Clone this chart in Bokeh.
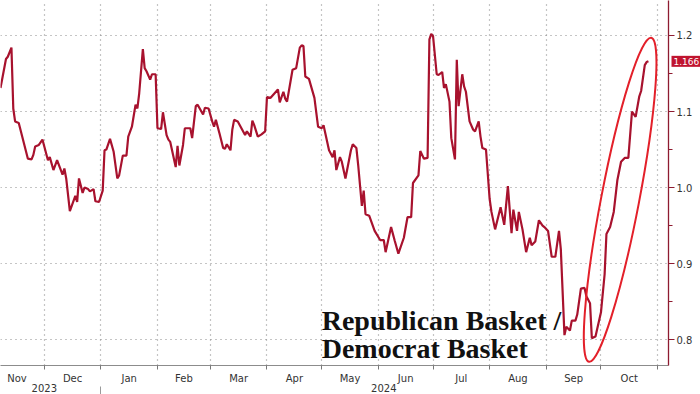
import pandas as pd
from bokeh.plotting import figure
from bokeh.models import (ColumnDataSource, Range1d, LinearAxis, FixedTicker, Label,
                          PrintfTickFormatter, CustomJSTickFormatter, Grid)
from bokeh.core.properties import value
from bokeh.embed import file_html
from bokeh.resources import INLINE

# ---------------- data ----------------
dates = [
    "2023-11-07", "2023-11-10", "2023-11-11", "2023-11-13", "2023-11-14", "2023-11-15", "2023-11-17",
    "2023-11-22", "2023-11-24", "2023-11-25", "2023-11-26", "2023-11-28", "2023-11-30", "2023-12-01",
    "2023-12-03", "2023-12-04", "2023-12-06", "2023-12-08", "2023-12-11", "2023-12-12", "2023-12-13",
    "2023-12-15", "2023-12-18", "2023-12-19", "2023-12-20", "2023-12-22", "2023-12-23", "2023-12-25",
    "2023-12-26", "2023-12-28", "2023-12-29", "2023-12-31", "2024-01-02", "2024-01-03", "2024-01-04",
    "2024-01-06", "2024-01-08", "2024-01-10", "2024-01-11", "2024-01-13", "2024-01-15", "2024-01-16",
    "2024-01-18", "2024-01-20", "2024-01-21", "2024-01-22", "2024-01-24", "2024-01-25", "2024-01-26",
    "2024-01-28", "2024-01-29", "2024-01-31", "2024-02-01", "2024-02-03", "2024-02-04", "2024-02-06",
    "2024-02-07", "2024-02-08", "2024-02-11", "2024-02-12", "2024-02-13", "2024-02-15", "2024-02-16",
    "2024-02-19", "2024-02-20", "2024-02-22", "2024-02-23", "2024-02-26", "2024-02-27", "2024-02-29",
    "2024-03-02", "2024-03-03", "2024-03-04", "2024-03-06", "2024-03-08", "2024-03-09", "2024-03-10",
    "2024-03-12", "2024-03-13", "2024-03-14", "2024-03-16", "2024-03-20", "2024-03-21", "2024-03-23",
    "2024-03-24", "2024-03-25", "2024-03-27", "2024-03-29", "2024-03-31", "2024-04-01", "2024-04-03",
    "2024-04-07", "2024-04-08", "2024-04-10", "2024-04-11", "2024-04-12", "2024-04-15", "2024-04-17",
    "2024-04-19", "2024-04-20", "2024-04-21", "2024-04-22", "2024-04-24", "2024-04-27", "2024-04-29",
    "2024-05-01", "2024-05-02", "2024-05-05", "2024-05-07", "2024-05-08", "2024-05-09", "2024-05-11",
    "2024-05-12", "2024-05-14", "2024-05-17", "2024-05-18", "2024-05-20", "2024-05-21", "2024-05-23",
    "2024-05-24", "2024-05-25", "2024-05-27", "2024-05-30", "2024-06-02", "2024-06-04", "2024-06-05",
    "2024-06-08", "2024-06-10", "2024-06-12", "2024-06-15", "2024-06-17", "2024-06-19", "2024-06-20",
    "2024-06-23", "2024-06-24", "2024-06-26", "2024-06-28", "2024-06-29", "2024-06-30", "2024-07-01",
    "2024-07-03", "2024-07-04", "2024-07-06", "2024-07-07", "2024-07-08", "2024-07-10", "2024-07-11",
    "2024-07-13", "2024-07-14", "2024-07-15", "2024-07-17", "2024-07-18", "2024-07-19", "2024-07-21",
    "2024-07-23", "2024-07-24", "2024-07-26", "2024-07-27", "2024-07-28", "2024-07-30", "2024-08-01",
    "2024-08-02", "2024-08-04", "2024-08-07", "2024-08-09", "2024-08-11", "2024-08-13", "2024-08-14",
    "2024-08-16", "2024-08-17", "2024-08-19", "2024-08-21", "2024-08-23", "2024-08-24", "2024-08-26",
    "2024-08-28", "2024-08-30", "2024-08-31", "2024-09-02", "2024-09-04", "2024-09-06", "2024-09-08",
    "2024-09-09", "2024-09-11", "2024-09-12", "2024-09-14", "2024-09-15", "2024-09-17", "2024-09-18",
    "2024-09-20", "2024-09-22", "2024-09-23", "2024-09-25", "2024-09-26", "2024-09-28", "2024-10-01",
    "2024-10-03", "2024-10-04", "2024-10-06", "2024-10-08", "2024-10-10", "2024-10-12", "2024-10-14",
    "2024-10-16", "2024-10-18", "2024-10-20", "2024-10-22", "2024-10-23", "2024-10-25", "2024-10-26",
    "2024-10-27",
]
ratio = [
    1.131, 1.169, 1.172, 1.184, 1.104, 1.087, 1.085,
    1.038, 1.037, 1.043, 1.054, 1.056, 1.063, 1.054,
    1.036, 1.040, 1.023, 1.036, 1.017, 1.025, 1.012,
    0.969, 0.989, 0.981, 1.012, 0.993, 1.000, 0.998,
    0.995, 0.998, 0.982, 0.981, 0.996, 1.049, 1.050,
    1.064, 1.047, 1.012, 1.016, 1.042, 1.042, 1.067,
    1.080, 1.109, 1.104, 1.124, 1.182, 1.157, 1.153,
    1.142, 1.149, 1.149, 1.078, 1.077, 1.099, 1.069,
    1.063, 1.060, 1.027, 1.055, 1.029, 1.056, 1.078,
    1.078, 1.065, 1.107, 1.109, 1.096, 1.105, 1.104,
    1.087, 1.080, 1.089, 1.071, 1.052, 1.051, 1.057,
    1.049, 1.076, 1.089, 1.087, 1.069, 1.074, 1.067,
    1.088, 1.082, 1.067, 1.070, 1.074, 1.119, 1.118,
    1.129, 1.112, 1.126, 1.117, 1.113, 1.155, 1.157,
    1.184, 1.187, 1.186, 1.146, 1.143, 1.118, 1.080,
    1.078, 1.082, 1.049, 1.040, 1.049, 1.023, 1.040,
    1.034, 1.012, 1.049, 1.057, 1.052, 1.029, 0.976,
    0.996, 0.965, 0.963, 0.943, 0.931, 0.931, 0.915,
    0.948, 0.930, 0.913, 0.934, 0.961, 0.961, 1.006,
    1.016, 1.048, 1.038, 1.039, 1.195, 1.202, 1.199,
    1.149, 1.148, 1.152, 1.131, 1.136, 1.113, 1.065,
    1.037, 1.168, 1.107, 1.149, 1.133, 1.126, 1.087,
    1.076, 1.074, 1.087, 1.067, 1.052, 1.050, 0.985,
    0.968, 0.945, 0.974, 0.951, 1.002, 0.940, 0.971,
    0.943, 0.968, 0.945, 0.915, 0.934, 0.924, 0.929,
    0.957, 0.950, 0.948, 0.943, 0.909, 0.909, 0.943,
    0.919, 0.806, 0.817, 0.812, 0.825, 0.825, 0.833,
    0.867, 0.868, 0.857, 0.848, 0.802, 0.804, 0.836,
    0.886, 0.939, 0.948, 0.968, 1.010, 1.034, 1.039,
    1.039, 1.100, 1.093, 1.120, 1.127, 1.161, 1.165,
    1.166,
]

month_labels = ["Nov", "Dec", "Jan", "Feb", "Mar", "Apr", "May", "Jun", "Jul", "Aug", "Sep", "Oct"]
month_starts = ["2023-11-01", "2023-12-01", "2024-01-01", "2024-02-01", "2024-03-01", "2024-04-01",
                "2024-05-01", "2024-06-01", "2024-07-01", "2024-08-01", "2024-09-01", "2024-10-01",
                "2024-11-01"]
year_labels = ["2023", "2024"]
year_label_dates = ["2023-12-01", "2024-06-04"]
year_break = ["2024-01-01"]
y_ticks = [0.8, 0.9, 1.0, 1.1, 1.2]
y_minor_ticks = [0.85, 0.95, 1.05, 1.15]
title_lines = ["Republican Basket /", "Democrat Basket"]
title_anchor_date = "2024-05-01"
title_values = [0.825, 0.788]
x_start, x_end = "2023-11-07", "2024-11-07"
y_start, y_end = 0.766, 1.246


def ms(s):
    return pd.Timestamp(s).value / 1e6


LINE = "#a8122e"
ELLIPSE = "#e3202a"

src = ColumnDataSource(dict(x=[ms(d) for d in dates], y=ratio))

p = figure(width=700, height=394, output_backend="svg", toolbar_location=None,
           x_axis_type=None, y_axis_location="right",
           x_range=Range1d(ms(x_start), ms(x_end)), y_range=Range1d(y_start, y_end),
           min_border_left=0, min_border_top=0, min_border_bottom=0, min_border_right=32)
p.outline_line_color = None
p.background_fill_color = "white"
p.border_fill_color = "white"

# grids
start_ms = [ms(d) for d in month_starts]
p.add_layout(Grid(dimension=0, ticker=FixedTicker(ticks=start_ms),
                  grid_line_color="#8a8a8a", grid_line_dash="1 4", grid_line_width=1.2))
p.ygrid.ticker = FixedTicker(ticks=y_ticks)
p.ygrid.grid_line_color = "#8a8a8a"
p.ygrid.grid_line_dash = "1 4"
p.ygrid.grid_line_width = 1.2

# right axis
ya = p.yaxis[0]
ya.ticker = FixedTicker(ticks=y_ticks, minor_ticks=y_minor_ticks)
ya.formatter = PrintfTickFormatter(format="%.1f")
ya.axis_line_color = "#8e1b30"
ya.axis_line_width = 1.3
ya.major_tick_line_color = "#8e1b30"
ya.minor_tick_line_color = "#8e1b30"
ya.major_tick_in = 0
ya.major_tick_out = 6
ya.minor_tick_in = 0
ya.minor_tick_out = 4
ya.major_label_text_font = "DejaVu Sans"
ya.major_label_text_font_size = "10px"
ya.major_label_text_color = "#333333"
ya.major_label_standoff = 2

# month axis
centers = [(start_ms[i] + start_ms[i + 1]) / 2 for i in range(len(month_labels))]
fmt_code = """
let best = 0, bd = Infinity;
for (let i = 0; i < pos.length; i++) {
  const d = Math.abs(pos[i] - tick);
  if (d < bd) { bd = d; best = i; }
}
return labs[best];
"""
xa = LinearAxis(ticker=FixedTicker(ticks=centers, minor_ticks=start_ms),
                formatter=CustomJSTickFormatter(args=dict(pos=centers, labs=month_labels), code=fmt_code),
                axis_line_color="#8c8c8c", axis_line_width=1.2,
                major_tick_line_color=None, major_tick_out=4, major_tick_in=0,
                minor_tick_line_color="#777777", minor_tick_out=4, minor_tick_in=0,
                major_label_text_font="DejaVu Sans", major_label_text_font_size="10px",
                major_label_text_color="#333333", major_label_standoff=3)
p.add_layout(xa, "below")

year_ms = [ms(d) for d in year_label_dates]
ya2 = LinearAxis(ticker=FixedTicker(ticks=year_ms, minor_ticks=[ms(d) for d in year_break]),
                 formatter=CustomJSTickFormatter(args=dict(pos=year_ms, labs=year_labels), code=fmt_code),
                 axis_line_color=None, major_tick_line_color=None, major_tick_out=0, major_tick_in=0,
                 minor_tick_line_color="#9a9a9a", minor_tick_out=16, minor_tick_in=0,
                 major_label_text_font="DejaVu Sans", major_label_text_font_size="10px",
                 major_label_text_color="#333333", major_label_standoff=-19)
p.add_layout(ya2, "below")

# main line
p.line("x", "y", source=src, line_color=LINE, line_width=2.2)

# ellipse highlighting the final surge (from the September low to the last point)
tail_from = dates.index("2024-09-20")
tail_vals = ratio[tail_from:]
i_min = tail_from + tail_vals.index(min(tail_vals))
cx = (ms(dates[i_min]) + ms(dates[-1])) / 2
cy = (ratio[i_min] + ratio[-1]) / 2
p.ellipse(x=[cx], y=[cy], width=38, height=330, width_units="screen", height_units="screen",
          angle=-0.19, fill_color=None, line_color=ELLIPSE, line_width=2)

# title text
for txt, yv in zip(title_lines, title_values):
    p.add_layout(Label(x=ms(title_anchor_date), y=yv, text=txt, text_font="Liberation Serif",
                       text_font_style="bold", text_font_size="28px", text_color="#111111",
                       text_baseline="middle"))

# last value tag (drawn over the axis)
p.text(x=[ms(x_end)], y=[ratio[-1]], text=[f"{ratio[-1]:.3f}"], x_offset=3,
       text_font=value("DejaVu Sans"), text_font_size="9px", text_color="white",
       text_baseline="middle", text_align="left", background_fill_color="#c0142f",
       padding=2, level="overlay")

open("out.html", "w").write(file_html(p, INLINE))
